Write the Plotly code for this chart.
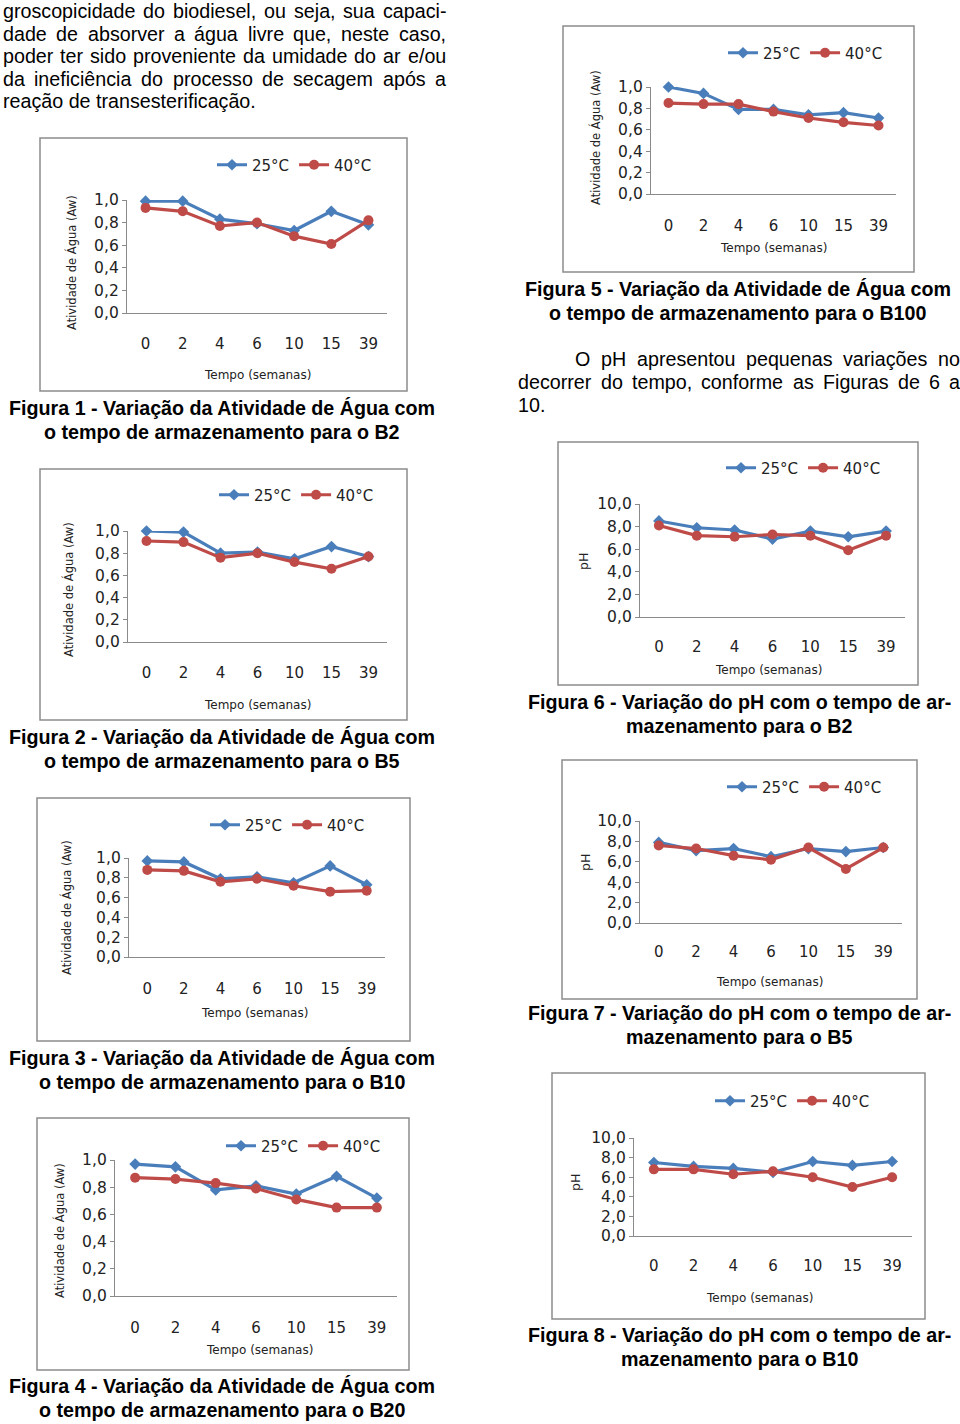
import plotly.graph_objects as go

W, H = 960, 1424

semanas = ["0", "2", "4", "6", "10", "15", "39"]

# Atividade de Água (Aw)
aw_b2_25 = [0.99, 0.99, 0.83, 0.79, 0.73, 0.90, 0.78]
aw_b2_40 = [0.93, 0.90, 0.77, 0.80, 0.68, 0.61, 0.82]
aw_b5_25 = [1.00, 0.99, 0.80, 0.81, 0.75, 0.86, 0.77]
aw_b5_40 = [0.91, 0.90, 0.76, 0.80, 0.72, 0.66, 0.77]
aw_b10_25 = [0.97, 0.96, 0.79, 0.81, 0.75, 0.92, 0.73]
aw_b10_40 = [0.88, 0.87, 0.76, 0.79, 0.72, 0.66, 0.67]
aw_b20_25 = [0.97, 0.95, 0.78, 0.81, 0.75, 0.88, 0.72]
aw_b20_40 = [0.87, 0.86, 0.83, 0.79, 0.71, 0.65, 0.65]
aw_b100_25 = [1.00, 0.94, 0.79, 0.79, 0.74, 0.76, 0.71]
aw_b100_40 = [0.85, 0.84, 0.84, 0.77, 0.71, 0.67, 0.64]

# pH
ph_b2_25 = [8.5, 7.9, 7.7, 6.9, 7.6, 7.1, 7.6]
ph_b2_40 = [8.1, 7.2, 7.1, 7.3, 7.2, 5.9, 7.2]
ph_b5_25 = [7.9, 7.1, 7.3, 6.5, 7.3, 7.0, 7.4]
ph_b5_40 = [7.6, 7.3, 6.6, 6.2, 7.4, 5.3, 7.4]
ph_b10_25 = [7.5, 7.1, 6.9, 6.5, 7.6, 7.2, 7.6]
ph_b10_40 = [6.8, 6.8, 6.3, 6.6, 6.0, 5.0, 6.0]

series_names = ["25°C", "40°C"]

BLUE = "#4A7EBB"
RED = "#BE4B48"
AXC = "#8A8A8A"
CHART_FONT = "DejaVu Sans"
TEXT_FONT = "Liberation Sans"

charts = [
    dict(s25=aw_b2_25, s40=aw_b2_40, kind="aw", box=(40, 138, 407, 391), plot=(127, 200, 387, 313),
         leg=(212, 165), ticky=343, xt=(257, 375), yt=(72, 263)),
    dict(s25=aw_b100_25, s40=aw_b100_40, kind="aw", box=(563, 26, 914, 272), plot=(651, 87, 896, 194),
         leg=(723, 53), ticky=225, xt=(773, 248), yt=(595, 138)),
    dict(s25=aw_b5_25, s40=aw_b5_40, kind="aw", box=(40, 469, 407, 720), plot=(128, 531, 387, 642),
         leg=(214, 495), ticky=672, xt=(257, 705), yt=(68, 590)),
    dict(s25=ph_b2_25, s40=ph_b2_40, kind="ph", box=(558, 442, 918, 685), plot=(640, 504, 905, 617),
         leg=(721, 468), ticky=646, xt=(768, 670), yt=(583, 562)),
    dict(s25=aw_b10_25, s40=aw_b10_40, kind="aw", box=(37, 798, 410, 1041), plot=(129, 858, 385, 957),
         leg=(205, 825), ticky=988, xt=(254, 1013), yt=(67, 908)),
    dict(s25=ph_b5_25, s40=ph_b5_40, kind="ph", box=(562, 760, 917, 999), plot=(640, 821, 902, 923),
         leg=(722, 787), ticky=951, xt=(769, 982), yt=(585, 863)),
    dict(s25=aw_b20_25, s40=aw_b20_40, kind="aw", box=(37, 1118, 409, 1370), plot=(115, 1160, 397, 1296),
         leg=(221, 1146), ticky=1327, xt=(259, 1350), yt=(59, 1231)),
    dict(s25=ph_b10_25, s40=ph_b10_40, kind="ph", box=(552, 1073, 925, 1319), plot=(634, 1138, 912, 1236),
         leg=(710, 1101), ticky=1265, xt=(759, 1298), yt=(575, 1183)),
]

def fx(x):
    return x / W

def fy(y):
    return 1 - y / H

fig = go.Figure()
layout = dict(
    width=W, height=H, margin=dict(l=0, r=0, t=0, b=0, autoexpand=False),
    paper_bgcolor="white", plot_bgcolor="white",
    separators=",.", showlegend=True,
)
shapes = []
annotations = []

for i, c in enumerate(charts, start=1):
    xa = "x" if i == 1 else f"x{i}"
    ya = "y" if i == 1 else f"y{i}"
    leg = "legend" if i == 1 else f"legend{i}"
    for name, vals, col, sym, size in [
        (series_names[0], c["s25"], BLUE, "diamond", 9),
        (series_names[1], c["s40"], RED, "circle", 10),
    ]:
        fig.add_trace(go.Scatter(
            x=semanas, y=vals, name=name, mode="lines+markers",
            line=dict(color=col, width=3.2), marker=dict(symbol=sym, size=size, color=col),
            xaxis=xa, yaxis=ya, legend=leg, cliponaxis=False, showlegend=True,
        ))
    bx0, by0, bx1, by1 = c["box"]
    px0, py0, px1, py1 = c["plot"]
    if c["kind"] == "aw":
        yr, dt, ytitle, yfs = [0, 1.0], 0.2, "Atividade de Água (Aw)", 11.5
    else:
        yr, dt, ytitle, yfs = [0, 10.0], 2.0, "pH", 12.5
    key = "" if i == 1 else str(i)
    layout["xaxis" + key] = dict(
        domain=[fx(px0), fx(px1)], anchor=ya, type="category", categoryorder="array",
        categoryarray=semanas, range=[-0.5, 6.5], showline=True, linecolor=AXC, linewidth=1.3,
        showgrid=False, zeroline=False, ticks="", ticklabelstandoff=c["ticky"] - py1 - 13,
        tickfont=dict(family=CHART_FONT, size=15, color="#222"), fixedrange=True,
    )
    layout["yaxis" + key] = dict(
        domain=[fy(py1), fy(py0)], anchor=xa, range=yr, dtick=dt, tick0=0, tickformat=".1f",
        showline=True, linecolor=AXC, linewidth=1.3, showgrid=False, zeroline=False,
        ticks="outside", ticklen=4, tickcolor=AXC,
        tickfont=dict(family=CHART_FONT, size=15.5, color="#222"), fixedrange=True,
    )
    layout[leg] = dict(
        x=fx(c["leg"][0]), y=fy(c["leg"][1]), xanchor="left", yanchor="middle",
        orientation="h", bgcolor="rgba(0,0,0,0)", itemwidth=30, tracegroupgap=0,
        font=dict(family=CHART_FONT, size=15, color="#222"),
    )
    shapes.append(dict(type="rect", xref="paper", yref="paper",
                       x0=fx(bx0), x1=fx(bx1), y0=fy(by1), y1=fy(by0),
                       line=dict(color="#8C8C8C", width=1.5), layer="below"))
    annotations.append(dict(text="Tempo (semanas)", x=fx(c["xt"][0]), y=fy(c["xt"][1]),
                            xref="paper", yref="paper", showarrow=False, xanchor="center",
                            yanchor="middle", font=dict(family=CHART_FONT, size=12, color="#222")))
    annotations.append(dict(text=ytitle, x=fx(c["yt"][0]), y=fy(c["yt"][1]), textangle=-90,
                            xref="paper", yref="paper", showarrow=False, xanchor="center",
                            yanchor="middle", font=dict(family=CHART_FONT, size=yfs, color="#222")))

# Arial / Liberation Sans advance widths (per 1000 em)
AW = {" ": 278, ",": 278, ".": 278, "-": 333, "/": 278, "O": 778, "H": 722, "F": 611}
for ch in "abdeghnopqu0123456789ãáêéóõ":
    AW[ch] = 556
for ch in "ckvxyzsç":
    AW[ch] = 500
AW.update({"f": 278, "t": 278, "i": 222, "j": 222, "l": 222, "m": 833, "r": 333, "w": 722})

TXT_SIZE = 19.7

def width(t, size):
    return sum(AW.get(ch, 556) for ch in t) * size / 1000.0

def txt(t, x, y, anchor="left", bold=False, size=TXT_SIZE):
    s = f"<b>{t}</b>" if bold else t
    annotations.append(dict(text=s, x=fx(x), y=fy(y), xref="paper", yref="paper",
                            showarrow=False, xanchor=anchor, yanchor="middle", borderpad=0,
                            font=dict(family=TEXT_FONT, size=size, color="black")))

def justify(line, x0, x1, y, size=TXT_SIZE):
    words = line.split(" ")
    ws = [width(w, size) for w in words]
    gap = (x1 - x0 - sum(ws)) / (len(words) - 1)
    x = x0
    for w, wd in zip(words, ws):
        txt(w, x, y, size=size)
        x += wd + gap

justify("groscopicidade do biodiesel, ou seja, sua capaci-", 2, 445, 11)
justify("dade de absorver a água livre que, neste caso,", 2, 445, 34)
justify("poder ter sido proveniente da umidade do ar e/ou", 2, 445, 56)
justify("da ineficiência do processo de secagem após a", 2, 445, 79)
txt("reação de transesterificação.", 2, 101)

justify("O pH apresentou pequenas variações no", 574, 959, 359)
justify("decorrer do tempo, conforme as Figuras de 6 a", 517, 959, 382)
txt("10.", 517, 405)

captions = [
    ("Figura 1 - Variação da Atividade de Água com", "o tempo de armazenamento para o B2", 222, 408),
    ("Figura 5 - Variação da Atividade de Água com", "o tempo de armazenamento para o B100", 738, 289),
    ("Figura 2 - Variação da Atividade de Água com", "o tempo de armazenamento para o B5", 222, 737),
    ("Figura 6 - Variação do pH com o tempo de ar-", "mazenamento para o B2", 739, 702),
    ("Figura 3 - Variação da Atividade de Água com", "o tempo de armazenamento para o B10", 222, 1058),
    ("Figura 7 - Variação do pH com o tempo de ar-", "mazenamento para o B5", 739, 1013),
    ("Figura 4 - Variação da Atividade de Água com", "o tempo de armazenamento para o B20", 222, 1386),
    ("Figura 8 - Variação do pH com o tempo de ar-", "mazenamento para o B10", 739, 1335),
]
for l1, l2, cx, y in captions:
    txt(l1, cx, y, anchor="center", bold=True)
    txt(l2, cx, y + 24, anchor="center", bold=True)

layout["shapes"] = shapes
layout["annotations"] = annotations
fig.update_layout(**layout)
fig.write_html(
    "out.html",
    config={"displayModeBar": False},
    post_script="document.body.style.margin='0px';document.body.style.padding='0px';"
                "document.body.style.overflow='hidden';",
)
